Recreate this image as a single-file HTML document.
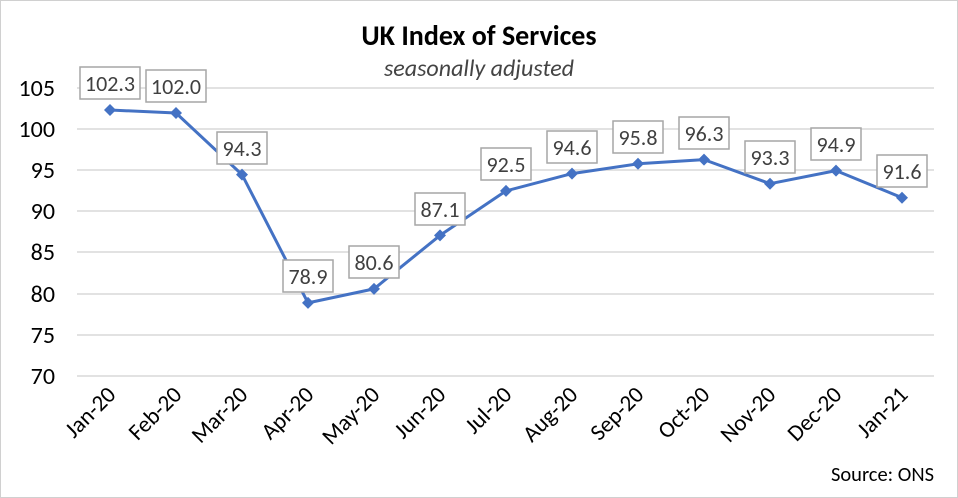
<!DOCTYPE html>
<html><head><style>body{margin:0;background:#fff}svg{display:block}</style></head><body>
<svg width="958" height="498" xmlns="http://www.w3.org/2000/svg" font-family="Calibri,Carlito,'Liberation Sans',sans-serif">
<rect x="0.5" y="0.5" width="957" height="497" fill="#fff" stroke="#d0d0d0"/>
<text x="479" y="45" text-anchor="middle" font-size="28" font-weight="bold" fill="#000">UK Index of Services</text>
<text x="479" y="76" text-anchor="middle" font-size="24" font-style="italic" fill="#444">seasonally adjusted</text>
<g stroke="#d9d9d9" stroke-width="1.5">
<line x1="77" x2="934" y1="88" y2="88"/><line x1="77" x2="934" y1="129" y2="129"/><line x1="77" x2="934" y1="170" y2="170"/><line x1="77" x2="934" y1="211" y2="211"/><line x1="77" x2="934" y1="252" y2="252"/><line x1="77" x2="934" y1="294" y2="294"/><line x1="77" x2="934" y1="335" y2="335"/><line x1="77" x2="934" y1="376" y2="376"/>
</g>
<g font-size="24" fill="#000" text-anchor="end">
<text x="55" y="96">105</text><text x="55" y="137">100</text><text x="55" y="178">95</text><text x="55" y="219">90</text><text x="55" y="260">85</text><text x="55" y="302">80</text><text x="55" y="343">75</text><text x="55" y="384">70</text>
</g>
<g font-size="23" fill="#000" text-anchor="end">
<text transform="translate(117,396) rotate(-45)">Jan-20</text>
<text transform="translate(183,396) rotate(-45)">Feb-20</text>
<text transform="translate(249,396) rotate(-45)">Mar-20</text>
<text transform="translate(315,396) rotate(-45)">Apr-20</text>
<text transform="translate(381,396) rotate(-45)">May-20</text>
<text transform="translate(447,396) rotate(-45)">Jun-20</text>
<text transform="translate(513,396) rotate(-45)">Jul-20</text>
<text transform="translate(579,396) rotate(-45)">Aug-20</text>
<text transform="translate(645,396) rotate(-45)">Sep-20</text>
<text transform="translate(711,396) rotate(-45)">Oct-20</text>
<text transform="translate(777,396) rotate(-45)">Nov-20</text>
<text transform="translate(843,396) rotate(-45)">Dec-20</text>
<text transform="translate(909,396) rotate(-45)">Jan-21</text>
</g>
<text x="934" y="481" text-anchor="end" font-size="20.5" fill="#000">Source: ONS</text>
<polyline fill="none" stroke="#4472C4" stroke-width="3" stroke-linejoin="round" points="110,110 176,113 242,174.6 308,302.9 374,288.9 440,235.4 506,190.9 572,173.6 638,163.8 704,159.6 770,183.7 836,170.6 902,197.7"/>
<g fill="#4472C4">
<path d="M110,104l6,6l-6,6l-6,-6z"/><path d="M176,107l6,6l-6,6l-6,-6z"/><path d="M242,168.6l6,6l-6,6l-6,-6z"/><path d="M308,296.9l6,6l-6,6l-6,-6z"/><path d="M374,282.9l6,6l-6,6l-6,-6z"/><path d="M440,229.4l6,6l-6,6l-6,-6z"/><path d="M506,184.9l6,6l-6,6l-6,-6z"/><path d="M572,167.6l6,6l-6,6l-6,-6z"/><path d="M638,157.8l6,6l-6,6l-6,-6z"/><path d="M704,153.6l6,6l-6,6l-6,-6z"/><path d="M770,177.7l6,6l-6,6l-6,-6z"/><path d="M836,164.6l6,6l-6,6l-6,-6z"/><path d="M902,191.7l6,6l-6,6l-6,-6z"/>
</g>
<g fill="#fff" stroke="#a6a6a6" stroke-width="1.5">
<rect x="80" y="67" width="60" height="32"/><rect x="146" y="70" width="60" height="32"/><rect x="217" y="132" width="50" height="32"/><rect x="283" y="260" width="50" height="32"/><rect x="349" y="246" width="50" height="32"/><rect x="415" y="193" width="50" height="32"/><rect x="481" y="148" width="50" height="32"/><rect x="547" y="131" width="50" height="32"/><rect x="613" y="121" width="50" height="32"/><rect x="679" y="117" width="50" height="32"/><rect x="745" y="141" width="50" height="32"/><rect x="811" y="128" width="50" height="32"/><rect x="877" y="155" width="50" height="32"/>
</g>
<g font-size="22" fill="#404040" text-anchor="middle">
<text x="110" y="91">102.3</text><text x="176" y="94">102.0</text><text x="242" y="156">94.3</text><text x="308" y="284">78.9</text><text x="374" y="270">80.6</text><text x="440" y="217">87.1</text><text x="506" y="172">92.5</text><text x="572" y="155">94.6</text><text x="638" y="145">95.8</text><text x="704" y="141">96.3</text><text x="770" y="165">93.3</text><text x="836" y="152">94.9</text><text x="902" y="179">91.6</text>
</g>
</svg>
</body></html>
